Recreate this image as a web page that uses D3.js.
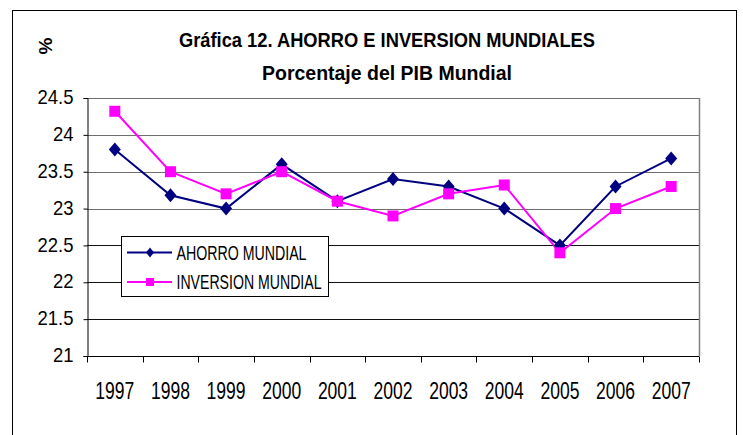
<!DOCTYPE html>
<html>
<head>
<meta charset="utf-8">
<script src="https://cdn.jsdelivr.net/npm/d3@7"></script>
<style>
  body { margin: 0; background: #fff; }
  svg { display: block; }
  text { font-family: "Liberation Sans", Arial, sans-serif; }
</style>
</head>
<body>
<div id="chart"></div>
<script>
// data
const years = ["1997", "1998", "1999", "2000", "2001", "2002", "2003", "2004", "2005", "2006", "2007"];
const ahorro = [23.8, 23.18, 23.0, 23.6, 23.1, 23.4, 23.3, 23.0, 22.5, 23.3, 23.68];
const inversion = [24.32, 23.5, 23.2, 23.5, 23.1, 22.9, 23.2, 23.32, 22.4, 23.0, 23.3];
const yTicks = [21, 21.5, 22, 22.5, 23, 23.5, 24, 24.5];

const width = 743, height = 435;
const plot = { left: 87, right: 699, top: 98, bottom: 356 };

// the original uses a narrow font, so squeeze the glyphs horizontally
function squeeze(sel, k) {
  sel.each(function() {
    const len = this.getComputedTextLength();
    d3.select(this)
      .attr("textLength", len * k)
      .attr("lengthAdjust", "spacingAndGlyphs");
  });
}

const svg = d3.select("#chart").append("svg")
  .attr("width", width)
  .attr("height", height);

// outer frame of the chart
svg.append("rect")
  .attr("x", 12.5).attr("y", 10.5)
  .attr("width", 724).attr("height", 430)
  .attr("fill", "none")
  .attr("stroke", "#000")
  .attr("stroke-width", 1);

const x = d3.scaleBand().domain(years).range([plot.left, plot.right]);
const y = d3.scaleLinear().domain([21, 24.5]).range([plot.bottom, plot.top]);

// gridlines
svg.append("g")
  .selectAll("line")
  .data(yTicks.filter(d => d > 21))
  .enter().append("line")
  .attr("x1", plot.left).attr("x2", plot.right)
  .attr("y1", d => Math.round(y(d)) + 0.5)
  .attr("y2", d => Math.round(y(d)) + 0.5)
  .attr("stroke", d => d >= 23 ? "#6e6e6e" : "#111")
  .attr("stroke-width", 1.2);

// right border of plot area
svg.append("line")
  .attr("x1", plot.right + 0.5).attr("x2", plot.right + 0.5)
  .attr("y1", plot.top).attr("y2", plot.bottom)
  .attr("stroke", "#808080")
  .attr("stroke-width", 1.5);

// y axis
const yAxis = svg.append("g")
  .attr("transform", "translate(" + (plot.left + 0.5) + ",0)")
  .call(d3.axisLeft(y).tickValues(yTicks).tickSize(4).tickPadding(10).tickFormat(d => d));
yAxis.select(".domain").attr("stroke", "#000");
yAxis.selectAll("text")
  .attr("font-size", "21px")
  .attr("fill", "#000")
  .attr("dy", "0.27em")
  .call(squeeze, 0.88);

// x axis with ticks at band edges
const xAxisG = svg.append("g")
  .attr("transform", "translate(0," + (plot.bottom + 0.5) + ")");
xAxisG.append("line")
  .attr("x1", plot.left).attr("x2", plot.right)
  .attr("stroke", "#000");
const edges = years.map(d => x(d)).concat([plot.right]);
xAxisG.selectAll(".tk")
  .data(edges)
  .enter().append("line")
  .attr("class", "tk")
  .attr("x1", d => Math.round(d) + 0.5).attr("x2", d => Math.round(d) + 0.5)
  .attr("y1", 0).attr("y2", 6)
  .attr("stroke", "#000");
xAxisG.selectAll(".lbl")
  .data(years)
  .enter().append("text")
  .attr("class", "lbl")
  .attr("x", d => x(d) + x.bandwidth() / 2)
  .attr("y", 42.5)
  .attr("text-anchor", "middle")
  .attr("font-size", "24px")
  .text(d => d)
  .call(squeeze, 0.73);

// series
const cx = (d, i) => x(years[i]) + x.bandwidth() / 2;
const line = d3.line().x(cx).y(d => y(d));

svg.append("path")
  .datum(ahorro)
  .attr("d", line)
  .attr("fill", "none")
  .attr("stroke", "#000080")
  .attr("stroke-width", 2);

svg.append("path")
  .datum(inversion)
  .attr("d", line)
  .attr("fill", "none")
  .attr("stroke", "#ff00ff")
  .attr("stroke-width", 2);

const diamondPath = (w, h) => "M0," + (-h) + "L" + w + ",0L0," + h + "L" + (-w) + ",0Z";
svg.append("g").selectAll("path")
  .data(ahorro)
  .enter().append("path")
  .attr("d", diamondPath(6, 7))
  .attr("transform", (d, i) => "translate(" + cx(d, i) + "," + y(d) + ")")
  .attr("fill", "#000080");

svg.append("g").selectAll("rect")
  .data(inversion)
  .enter().append("rect")
  .attr("x", (d, i) => cx(d, i) - 5.5)
  .attr("y", d => y(d) - 5.5)
  .attr("width", 11).attr("height", 11)
  .attr("fill", "#ff00ff");

// legend
const legend = svg.append("g").attr("transform", "translate(121,236)");
legend.append("rect")
  .attr("x", 0.5).attr("y", 0.5)
  .attr("width", 207).attr("height", 60)
  .attr("fill", "#fff")
  .attr("stroke", "#000");
const legendItems = [
  { name: "AHORRO MUNDIAL", color: "#000080", kind: "diamond", len: 130 },
  { name: "INVERSION MUNDIAL", color: "#ff00ff", kind: "square", len: 145 }
];
const li = legend.selectAll(".item")
  .data(legendItems)
  .enter().append("g")
  .attr("class", "item")
  .attr("transform", (d, i) => "translate(0," + (16.5 + i * 29.5) + ")");
li.append("line")
  .attr("x1", 6).attr("x2", 51)
  .attr("stroke", d => d.color)
  .attr("stroke-width", 2);
li.append("path")
  .attr("d", d => d.kind === "diamond" ? diamondPath(4, 5) : "M-4,-4H4V4H-4Z")
  .attr("transform", "translate(29,0)")
  .attr("fill", d => d.color);
li.append("text")
  .attr("x", 55.5)
  .attr("dy", "0.36em")
  .attr("font-size", "19.5px")
  .attr("textLength", d => d.len)
  .attr("lengthAdjust", "spacingAndGlyphs")
  .text(d => d.name);

// titles
svg.append("text")
  .attr("x", 387).attr("y", 47)
  .attr("text-anchor", "middle")
  .attr("font-size", "20px")
  .attr("font-weight", "bold")
  .text("Gráfica 12. AHORRO E INVERSION MUNDIALES")
  .attr("textLength", 416)
  .attr("lengthAdjust", "spacingAndGlyphs");
svg.append("text")
  .attr("x", 387).attr("y", 80)
  .attr("text-anchor", "middle")
  .attr("font-size", "20px")
  .attr("font-weight", "bold")
  .text("Porcentaje del PIB Mundial")
  .attr("textLength", 250)
  .attr("lengthAdjust", "spacingAndGlyphs");
svg.append("text")
  .attr("transform", "translate(52,46) rotate(-90)")
  .attr("text-anchor", "middle")
  .attr("font-size", "19px")
  .attr("font-weight", "bold")
  .text("%");
</script>
</body>
</html>
